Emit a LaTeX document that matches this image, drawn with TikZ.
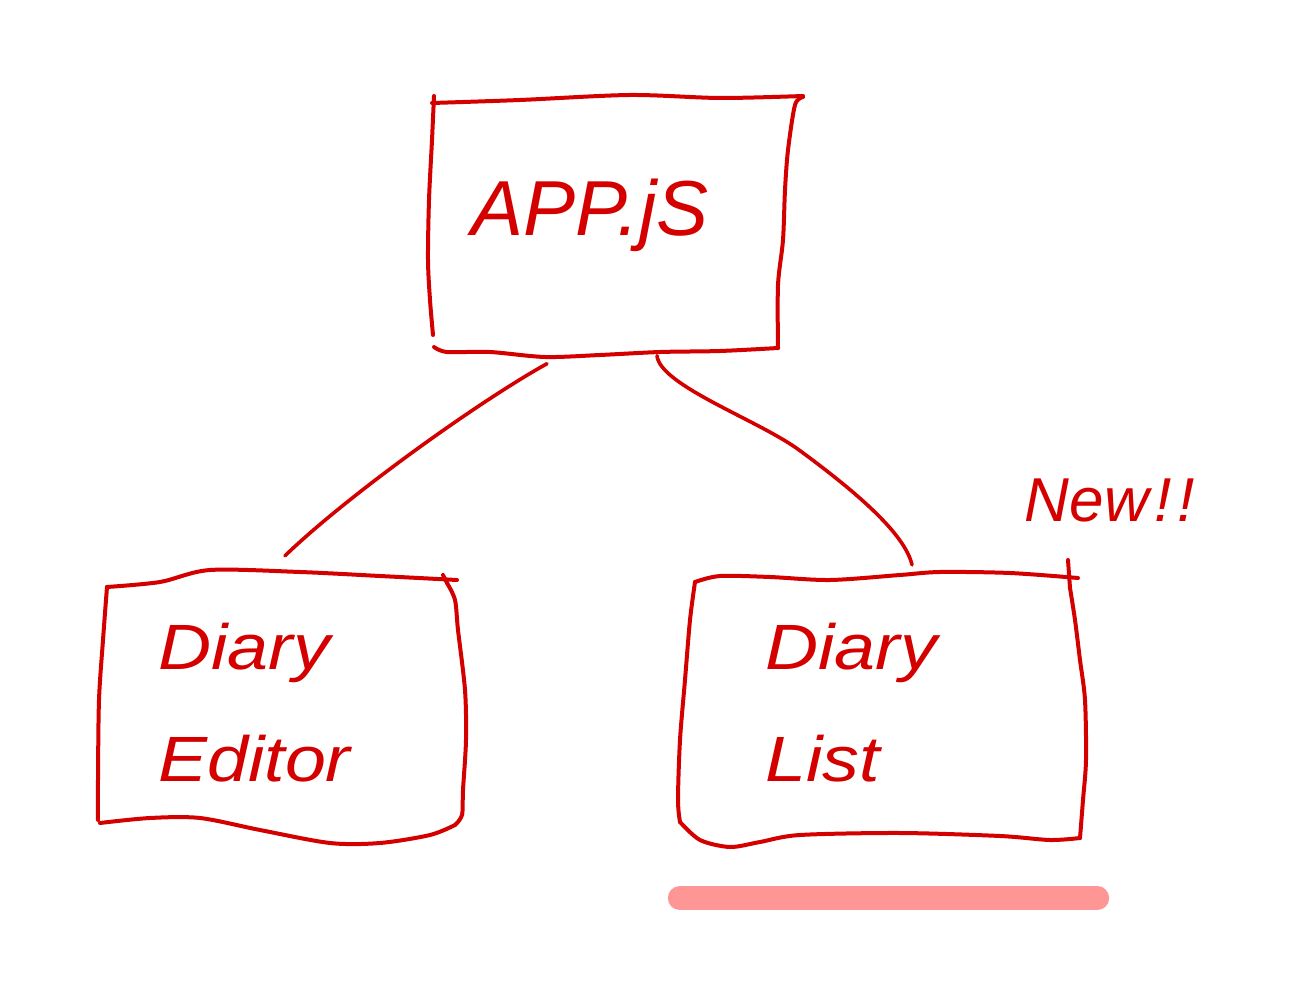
\documentclass[tikz,border=0pt]{standalone}
\usepackage{fontspec}
\setmainfont{Liberation Sans}
\usetikzlibrary{calc}
\definecolor{pen}{HTML}{D40000}
\definecolor{hl}{HTML}{FF9696}
\tikzset{
  stroke/.style={draw=pen, line width=4pt, line cap=round, line join=round},
  boxnode/.style={draw=none, inner sep=0pt},
  handtext/.style={text=pen, align=left, inner sep=0pt},
}
\begin{document}
\begin{tikzpicture}[x=1pt,y=-1pt]
\useasboundingbox (0,0) rectangle (1310,1000);
% nodes (areas of the boxes, text inside)
\node[boxnode, minimum width=370pt, minimum height=255pt] (app) at (605,225) {};
\node[boxnode, minimum width=365pt, minimum height=270pt] (editor) at (282,706) {};
\node[boxnode, minimum width=400pt, minimum height=270pt] (list) at (880,708) {};
\node[handtext, font=\fontsize{78}{86}\selectfont\itshape] (apptxt) at (590,215) {APP.jS};
\node[handtext, font=\fontsize{64}{112}\selectfont\itshape, anchor=west, xscale=1.15] (edtxt) at (158,703) {Diary\\Editor};
\node[handtext, font=\fontsize{64}{112}\selectfont\itshape, anchor=west, xscale=1.15] (lsttxt) at (765,703) {Diary\\List};
\node[handtext, font=\fontsize{62}{70}\selectfont\itshape] (new) at (1110,500) {New\kern6pt!\kern6pt!};
% App.js box
\draw[stroke] plot[smooth] coordinates {(434,96) (432,140) (429,200) (428,260) (430,300) (433,335)};
\draw[stroke] plot[smooth] coordinates {(432,103) (520,100) (630,95) (720,98) (803,96)};
\draw[stroke] plot[smooth] coordinates {(803,97) (795,105) (788,150) (785,190) (783,240) (778,285) (778,348)};
\draw[stroke] plot[smooth] coordinates {(434,347) (447,352) (490,352) (545,357) (600,355) (660,352) (720,351) (778,348)};
% Diary Editor box
\draw[stroke] plot[smooth] coordinates {(107,587) (160,582) (210,570) (300,572) (380,576) (457,580)};
\draw[stroke] (443,575) -- (447,583);
\draw[stroke] plot[smooth] coordinates {(447,583) (455,600) (458,630) (465,690) (466,740) (463,790) (462,815) (455,825)};
\draw[stroke] plot[smooth] coordinates {(455,825) (430,835) (380,843) (330,843) (260,830) (200,818) (150,818) (100,823)};
\draw[stroke] plot[smooth] coordinates {(107,587) (103,640) (99,700) (98,780) (98,820)};
% Diary List box
\draw[stroke] plot[smooth] coordinates {(695,582) (720,576) (770,577) (830,580) (900,575) (940,572) (1010,573) (1078,578)};
\draw[stroke] (1068,560) -- (1070,588);
\draw[stroke] plot[smooth] coordinates {(1070,588) (1075,620) (1080,660) (1085,700) (1086,760) (1083,800) (1080,838)};
\draw[stroke] plot[smooth] coordinates {(1080,838) (1050,840) (1000,836) (900,833) (800,835) (760,842) (730,847) (700,840) (680,822)};
\draw[stroke] plot[smooth] coordinates {(695,582) (690,620) (685,680) (680,740) (678,800) (680,822)};
% connectors
\draw[stroke, line width=3.6pt] ($(app.south)+(-58,11)$) .. controls ($(app.south)+(-125,48)$) and ($(editor.north)+(65,-75)$) .. ($(editor.north)+(3,-15)$);
\draw[stroke, line width=3.6pt] ($(app.south)+(52,3)$) .. controls ($(app.south)+(55,33)$) and ($(app.south)+(155,68)$) .. ($(app.south)+(195,98)$)
  .. controls ($(list.north)+(-20,-78)$) and ($(list.north)+(25,-38)$) .. ($(list.north)+(32,-8)$);
% highlight
\draw[hl, line width=24pt, line cap=round] ($(list.south west)+(0,55)$) -- ($(list.south east)+(17,55)$);
\end{tikzpicture}
\end{document}
